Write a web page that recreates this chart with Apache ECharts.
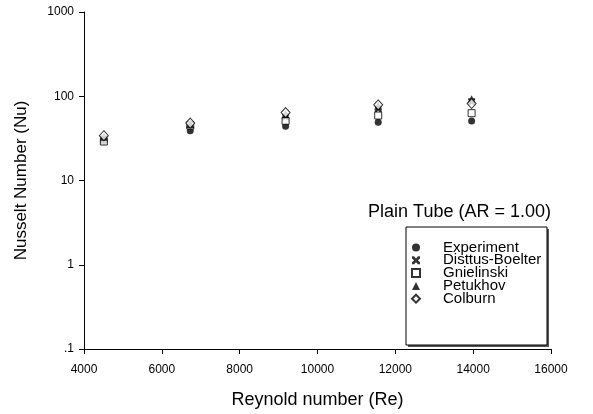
<!DOCTYPE html>
<html>
<head>
<meta charset="utf-8">
<script src="https://cdn.jsdelivr.net/npm/echarts@6/dist/echarts.min.js"></script>
<style>
  html, body { margin: 0; padding: 0; background: #fff; }
  #chart { width: 593px; height: 414px; }
</style>
</head>
<body>
<div id="chart"></div>
<script>
// Reynolds numbers of the test runs
const reynolds = [4510, 6730, 9180, 11560, 13960];

// Nusselt number: measured and from the correlations
const experiment     = [29, 39, 44, 49, 51];
const dittusBoelter  = [31, 46, 57, 71, 86];
const gnielinski     = [29, 45, 51, 59, 63];
const petukhov       = [33, 47, 61, 77, 92];
const colburn        = [34, 48, 64, 79, 82];

const yTickLabels = { 0.1: '.1', 1: '1', 10: '10', 100: '100', 1000: '1000' };

const seriesNames = ['Experiment', 'Disttus-Boelter', 'Gnielinski', 'Petukhov', 'Colburn'];

const crossPath = 'path://M0,0 L2.6,0 L5,2.6 L7.4,0 L10,0 L10,2.6 L7.4,5 L10,7.4 L10,10 L7.4,10 L5,7.4 L2.6,10 L0,10 L0,7.4 L2.6,5 L0,2.6 Z';

const pairs = vals => reynolds.map((re, i) => [re, vals[i]]);

const font = 'Arial, "Liberation Sans", sans-serif';

const chart = echarts.init(document.getElementById('chart'), null, { renderer: 'canvas' });

const solid = { color: '#000', borderColor: '#000', borderWidth: 0 };
const open  = { color: '#fff', borderColor: '#000', borderWidth: 1 };

chart.setOption({
  animation: false,
  backgroundColor: '#fff',
  grid: { left: 84, right: 42, top: 12, bottom: 63, containLabel: false },
  xAxis: {
    type: 'value',
    min: 4000, max: 16000, interval: 2000,
    name: 'Reynold number (Re)',
    nameLocation: 'middle',
    nameGap: 42,
    nameTextStyle: { fontFamily: font, fontSize: 18, color: '#000' },
    axisLine: { onZero: false, lineStyle: { color: '#000', width: 1 } },
    axisTick: { show: true, inside: false, length: 5, lineStyle: { color: '#000' } },
    axisLabel: { fontFamily: font, fontSize: 12, color: '#000', margin: 15, formatter: v => String(v) },
    splitLine: { show: false }
  },
  yAxis: {
    type: 'log',
    logBase: 10,
    min: 0.1, max: 1000,
    name: 'Nusselt Number (Nu)',
    nameLocation: 'middle',
    nameGap: 54,
    nameTextStyle: { fontFamily: font, fontSize: 17, color: '#000' },
    axisLine: { show: true, lineStyle: { color: '#000', width: 1 } },
    axisTick: { show: true, inside: false, length: 5, lineStyle: { color: '#000' } },
    axisLabel: {
      fontFamily: font, fontSize: 12, color: '#000', margin: 10,
      formatter: v => {
        const k = Object.keys(yTickLabels).find(t => Math.abs(Number(t) - v) / v < 1e-6);
        return k !== undefined ? yTickLabels[k] : '';
      }
    },
    minorTick: { show: false },
    splitLine: { show: false }
  },
  legend: {
    orient: 'vertical',
    left: 411,
    top: 240,
    padding: 0,
    itemWidth: 8,
    itemHeight: 8,
    itemGap: -2.2,
    selectedMode: false,
    textStyle: { fontFamily: font, fontSize: 15, color: '#000', padding: [0, 0, 0, 18] },
    data: seriesNames
  },
  graphic: [
    { type: 'rect', z: 0, shape: { x: 408, y: 229, width: 141, height: 118 }, style: { fill: '#555' } },
    { type: 'rect', z: 1, shape: { x: 406, y: 227, width: 141, height: 118 }, style: { fill: '#fff', stroke: '#000', lineWidth: 1 } },
    { type: 'text', z: 2, style: { x: 551, y: 212, text: 'Plain Tube (AR = 1.00)', textAlign: 'right', textVerticalAlign: 'middle', font: '18px ' + font, fill: '#000' } }
  ],
  series: [
    { name: seriesNames[0], type: 'scatter', z: 3, symbol: 'circle', symbolSize: 7, itemStyle: solid, data: pairs(experiment) },
    { name: seriesNames[1], type: 'scatter', z: 3, symbol: crossPath, symbolSize: 7, itemStyle: solid, data: pairs(dittusBoelter) },
    { name: seriesNames[2], type: 'scatter', z: 3, symbol: 'rect', symbolSize: 7, itemStyle: open, data: pairs(gnielinski) },
    { name: seriesNames[3], type: 'scatter', z: 3, symbol: 'triangle', symbolSize: 8, itemStyle: solid, data: pairs(petukhov) },
    { name: seriesNames[4], type: 'scatter', z: 3, symbol: 'diamond', symbolSize: [9, 10], itemStyle: open, data: pairs(colburn) }
  ]
});
</script>
</body>
</html>
